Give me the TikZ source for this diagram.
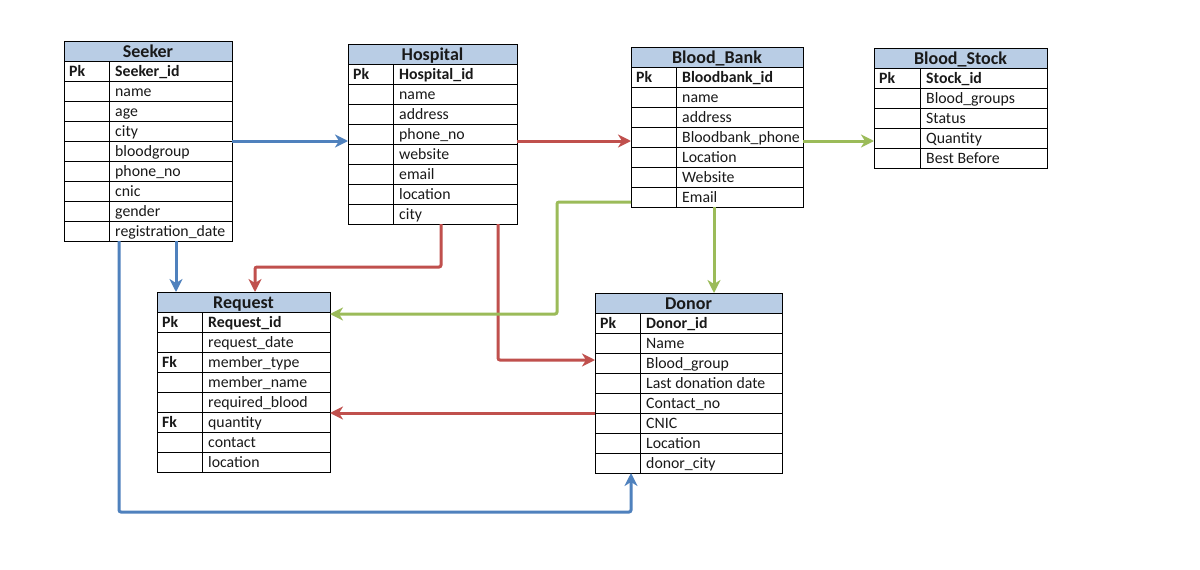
\documentclass[tikz,border=0pt]{standalone}
\usepackage{fontspec}
\setmainfont{Carlito}
\usetikzlibrary{arrows.meta,calc}
\definecolor{hdrblue}{RGB}{185,205,229}
\definecolor{cblue}{RGB}{79,129,189}
\definecolor{cred}{RGB}{192,80,77}
\definecolor{cgreen}{RGB}{155,187,89}
\definecolor{txt}{RGB}{25,25,25}
\newcommand{\erdfont}{\fontsize{15.8}{19}\selectfont}
\newcommand{\erdhfont}{\fontsize{18}{20}\selectfont\bfseries}
\tikzset{
  gridline/.style={line width=0.9pt, black},
  celltext/.style={anchor=base west, inner sep=0pt, font=\erdfont, text=txt},
  hdrtext/.style={anchor=base, inner sep=0pt, font=\erdhfont, text=txt},
  tablebox/.style={draw=black, line width=1pt, inner sep=0pt, outer sep=0pt},
  arr/.style={line width=3pt, rounded corners=2pt,
    -{Stealth[length=13pt,width=13pt,inset=4pt]}},
}
% #1 name, #2 x, #3 y, #4 width, #5 first column width, #6 title, #7 body rows, #8 rows
\newcommand{\erdtable}[8]{%
  \fill[hdrblue] (#2,#3) rectangle ++(#4,20);
  \node[hdrtext] (#1-title) at ({#2+#4/2},{#3+16.5}) {#6};
  \foreach[count=\i] \k/\t in {#8} {
    \draw[gridline] (#2,{#3+20*\i}) -- ++(#4,0);
    \node[celltext] (#1-k\i) at ({#2+5},{#3+20*\i+15.5}) {\k};
    \node[celltext] (#1-t\i) at ({#2+#5+6},{#3+20*\i+15.5}) {\t};
  }
  \draw[gridline] ({#2+#5},{#3+20}) -- ++(0,{20*#7});
  \node[tablebox, minimum width=#4pt, minimum height={(20*(#7+1))*1pt},
        anchor=north west] (#1) at (#2,#3) {};
}
\begin{document}
\begin{tikzpicture}[x=1pt,y=-1pt]
\useasboundingbox[fill=white] (0,0) rectangle (1200,570);

\erdtable{seeker}{64}{41}{168}{45}{Seeker}{9}{%
  \textbf{Pk}/\textbf{Seeker\_id}, /name, /age, /city, /bloodgroup, /phone\_no,
  /cnic, /gender, /registration\_date}
\erdtable{hospital}{348}{44}{169}{45}{Hospital}{8}{%
  \textbf{Pk}/\textbf{Hospital\_id}, /name, /address, /phone\_no, /website,
  /email, /location, /city}
\erdtable{bloodbank}{631}{47}{172}{45}{Blood\_Bank}{7}{%
  \textbf{Pk}/\textbf{Bloodbank\_id}, /name, /address, /Bloodbank\_phone,
  /Location, /Website, /Email}
\erdtable{bloodstock}{874}{48}{173}{46}{Blood\_Stock}{5}{%
  \textbf{Pk}/\textbf{Stock\_id}, /Blood\_groups, /Status, /Quantity, /Best Before}
\erdtable{request}{157}{292}{173}{45}{Request}{8}{%
  \textbf{Pk}/\textbf{Request\_id}, /request\_date, \textbf{Fk}/member\_type,
  /member\_name, /required\_blood, \textbf{Fk}/quantity, /contact, /location}
\erdtable{donor}{595}{293}{187}{45}{Donor}{8}{%
  \textbf{Pk}/\textbf{Donor\_id}, /Name, /Blood\_group, /Last donation date,
  /Contact\_no, /CNIC, /Location, /donor\_city}

% blue connectors
\draw[arr, cblue] (seeker.east |- 0,141) -- (hospital.west |- 0,141);
\draw[arr, cblue] (seeker.south -| 176,0) -- (request.north -| 176,0);
\draw[arr, cblue] (seeker.south -| 119,0) -- (119,512) -| (donor.south -| 631,0);
% red connectors
\draw[arr, cred] (hospital.east |- 0,141) -- (bloodbank.west |- 0,141);
\draw[arr, cred] (hospital.south -| 441,0) |- (255,267) -- (request.north -| 255,0);
\draw[arr, cred] (hospital.south -| 498,0) |- (donor.west |- 0,360);
\draw[arr, cred] (donor.west |- 0,413) -- (request.east |- 0,413);
% green connectors
\draw[arr, cgreen] (bloodbank.east |- 0,141) -- (bloodstock.west |- 0,141);
\draw[arr, cgreen] (bloodbank.west |- 0,202) -| (557,314) -- (request.east |- 0,314);
\draw[arr, cgreen] (bloodbank.south -| 714,0) -- (donor.north -| 714,0);
\end{tikzpicture}
\end{document}
